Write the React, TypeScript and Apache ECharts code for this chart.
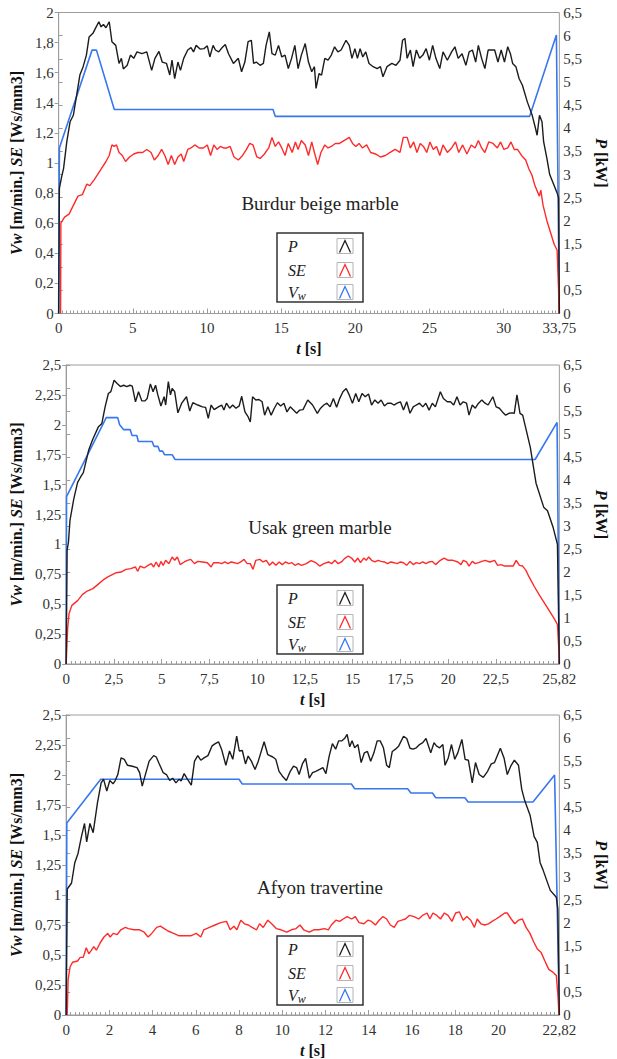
import React, { useEffect, useRef } from "react";
import * as echarts from "echarts";

type Pt = [number, number];

// ---------- tick labels / axis settings ----------
const burdurTimeTicks = [0, 5, 10, 15, 20, 25, 30, 33.75];
const usakTimeTicks = [0, 2.5, 5, 7.5, 10, 12.5, 15, 17.5, 20, 22.5, 25.82];
const afyonTimeTicks = [0, 2, 4, 6, 8, 10, 12, 14, 16, 18, 20, 22.82];
const timeTicks = [burdurTimeTicks, usakTimeTicks, afyonTimeTicks];
const minorTimeStep = [0.25, 0.25, 0.2];
const materials = ["Burdur beige marble", "Usak green marble", "Afyon travertine"];
const leftAxisMax = [2, 2.5, 2.5];
const leftAxisStep = [0.2, 0.25, 0.25];
const rightAxisMax = 6.5;
const rightAxisStep = 0.5;

// ---------- Burdur beige marble ----------
const burdurP: Pt[] = [[0,0],[0.05,2.7],[0.2,2.95],[0.33,3.13],[0.55,3.71],[0.77,4.14],[0.99,4.28],[1.21,4.71],[1.43,5.15],[1.65,5.33],[1.87,5.58],[2.05,5.97],[2.31,6.05],[2.53,6.19],[2.71,6.3],[2.86,6.19],[3.02,6.24],[3.19,6.17],[3.41,6.3],[3.59,5.87],[3.85,5.79],[4.07,5.4],[4.23,5.51],[4.36,5.28],[4.62,5.36],[4.84,5.58],[5.06,5.51],[5.28,5.65],[5.61,5.61],[5.94,5.65],[6.27,5.25],[6.49,5.51],[6.76,5.66],[6.98,5.43],[7.27,5.4],[7.49,5.15],[7.64,5.47],[7.82,5.07],[8.04,5.43],[8.21,5.25],[8.43,5.51],[8.7,5.69],[8.92,5.74],[9.09,5.65],[9.27,5.79],[9.53,5.71],[9.8,5.72],[10.02,5.78],[10.19,5.54],[10.41,5.79],[10.57,5.69],[10.79,5.65],[11.01,5.74],[11.23,5.81],[11.45,5.61],[11.78,5.4],[12.11,5.51],[12.33,5.22],[12.55,5.43],[12.77,5.87],[12.99,5.9],[13.14,5.4],[13.32,5.43],[13.58,5.36],[13.8,5.4],[13.98,5.79],[14.2,6.08],[14.38,5.61],[14.6,5.58],[14.82,5.79],[15.04,5.54],[15.26,5.58],[15.48,5.29],[15.7,5.51],[15.92,5.79],[16.14,5.29],[16.36,5.58],[16.62,5.83],[16.84,5.43],[17.06,5.22],[17.24,5.33],[17.35,4.86],[17.55,5.18],[17.72,5.15],[17.94,5.51],[18.16,5.47],[18.38,5.58],[18.6,5.76],[18.82,5.65],[19.04,5.69],[19.37,5.9],[19.59,5.79],[19.77,5.51],[19.97,5.72],[20.14,5.51],[20.32,5.72],[20.5,5.54],[20.7,5.65],[20.92,5.4],[21.2,5.33],[21.47,5.29],[21.69,5.33],[21.86,5.11],[22.13,5.33],[22.46,5.4],[22.74,5.36],[23.01,5.47],[23.18,5.9],[23.34,5.94],[23.49,5.51],[23.71,5.69],[23.89,5.33],[24.11,5.69],[24.33,5.51],[24.55,5.58],[24.77,5.72],[24.99,5.47],[25.21,5.79],[25.43,5.51],[25.69,5.29],[25.91,5.65],[26.2,5.47],[26.49,5.65],[26.71,5.76],[26.93,5.51],[27.19,5.61],[27.45,5.36],[27.67,5.65],[27.89,5.69],[28.11,5.43],[28.29,5.79],[28.51,5.51],[28.73,5.29],[28.95,5.69],[29.17,5.69],[29.39,5.69],[29.61,5.43],[29.83,5.69],[30.05,5.43],[30.27,5.76],[30.45,5.61],[30.6,5.4],[30.82,5.33],[31.04,5.07],[31.26,4.93],[31.59,4.57],[31.92,4.28],[32.14,4.0],[32.25,3.85],[32.41,4.28],[32.58,4.14],[32.69,3.71],[32.91,3.35],[33.1,3.0],[33.35,2.8],[33.6,2.6],[33.7,2.5],[33.75,0]];
const burdurSE: Pt[] = [[0.13,0],[0.15,0.6],[0.4,0.64],[0.7,0.66],[1.0,0.72],[1.3,0.78],[1.6,0.79],[1.9,0.86],[2.1,0.85],[2.4,0.89],[2.6,0.92],[2.86,0.96],[3.19,1.01],[3.41,1.05],[3.59,1.12],[3.74,1.11],[3.9,1.12],[4.07,1.07],[4.29,1.05],[4.51,1.01],[4.78,1.04],[5.06,1.06],[5.35,1.07],[5.66,1.07],[5.94,1.09],[6.23,1.07],[6.45,1.02],[6.71,1.05],[6.94,1.09],[7.16,1.05],[7.38,0.99],[7.6,1.05],[7.82,0.99],[8.04,1.04],[8.26,1.06],[8.43,1.01],[8.7,1.09],[8.92,1.1],[9.18,1.12],[9.47,1.1],[9.75,1.1],[10.02,1.12],[10.24,1.05],[10.46,1.12],[10.68,1.09],[10.9,1.11],[11.12,1.1],[11.34,1.1],[11.56,1.11],[11.82,1.04],[12.11,1.02],[12.4,1.05],[12.66,1.09],[12.88,1.13],[13.1,1.12],[13.36,1.04],[13.58,1.03],[13.87,1.06],[14.16,1.1],[14.38,1.17],[14.6,1.11],[14.82,1.14],[15.04,1.1],[15.26,1.05],[15.48,1.13],[15.74,1.07],[15.96,1.14],[16.14,1.09],[16.36,1.15],[16.62,1.12],[16.84,1.05],[17.06,1.14],[17.24,1.07],[17.46,0.99],[17.68,1.07],[17.94,1.12],[18.16,1.1],[18.38,1.11],[18.65,1.13],[18.93,1.13],[19.26,1.15],[19.59,1.17],[19.81,1.13],[20.03,1.11],[20.25,1.13],[20.47,1.1],[20.76,1.12],[21.03,1.07],[21.36,1.06],[21.69,1.04],[22.02,1.05],[22.35,1.07],[22.68,1.09],[23.01,1.07],[23.23,1.17],[23.49,1.17],[23.71,1.1],[23.93,1.14],[24.15,1.07],[24.37,1.13],[24.59,1.11],[24.81,1.07],[25.03,1.14],[25.25,1.09],[25.47,1.11],[25.69,1.05],[25.91,1.12],[26.2,1.07],[26.49,1.1],[26.75,1.14],[26.97,1.07],[27.23,1.12],[27.52,1.06],[27.81,1.12],[28.07,1.1],[28.29,1.15],[28.51,1.1],[28.73,1.07],[28.99,1.14],[29.28,1.13],[29.57,1.1],[29.79,1.14],[30.01,1.09],[30.27,1.1],[30.49,1.14],[30.71,1.09],[30.93,1.09],[31.2,1.05],[31.48,1.02],[31.7,0.96],[31.9,0.92],[32.1,0.85],[32.4,0.78],[32.5,0.82],[32.65,0.72],[32.9,0.62],[33.15,0.54],[33.4,0.46],[33.6,0.42],[33.7,0.15],[33.72,0]];
const burdurVw: Pt[] = [[0,0],[0.05,1.1],[2.25,1.75],[2.55,1.75],[3.75,1.355],[14.45,1.355],[14.6,1.31],[31.75,1.31],[33.55,1.85],[33.75,0]];

// ---------- Usak green marble ----------
const usakP: Pt[] = [[0,0],[0.05,2.47],[0.12,2.65],[0.2,3.12],[0.4,3.59],[0.6,3.95],[0.75,4.06],[0.9,4.16],[1.18,4.65],[1.4,4.89],[1.68,5.15],[1.87,5.23],[2.04,5.59],[2.21,5.88],[2.34,5.92],[2.51,6.17],[2.67,6.1],[2.84,6.03],[3.01,6.06],[3.18,6.03],[3.34,6.06],[3.46,6.04],[3.63,5.7],[3.79,5.92],[3.96,5.72],[4.13,5.72],[4.24,5.77],[4.41,6.09],[4.55,5.92],[4.68,6.06],[4.8,5.85],[4.96,5.61],[5.13,5.81],[5.21,5.63],[5.35,6.14],[5.46,5.85],[5.55,5.99],[5.68,5.92],[5.85,5.46],[6.05,5.67],[6.3,5.81],[6.47,5.5],[6.63,5.68],[6.89,5.63],[7.14,5.59],[7.3,5.58],[7.44,5.34],[7.59,5.63],[7.75,5.53],[7.97,5.59],[8.14,5.63],[8.26,5.52],[8.39,5.67],[8.56,5.56],[8.72,5.63],[8.89,5.56],[9.06,5.61],[9.19,5.82],[9.36,5.48],[9.53,5.37],[9.64,5.26],[9.76,5.81],[9.93,5.74],[10.09,5.75],[10.26,5.7],[10.39,5.41],[10.56,5.59],[10.73,5.41],[10.9,5.56],[11.06,5.68],[11.23,5.61],[11.4,5.67],[11.56,5.48],[11.73,5.59],[11.9,5.52],[12.07,5.45],[12.23,5.52],[12.4,5.53],[12.65,5.74],[12.9,5.63],[13.15,5.45],[13.32,5.56],[13.49,5.63],[13.65,5.67],[13.82,5.59],[13.99,5.77],[14.16,5.58],[14.32,5.77],[14.49,5.92],[14.66,5.99],[14.82,5.85],[14.99,5.67],[15.16,5.88],[15.32,5.7],[15.49,5.88],[15.66,5.81],[15.83,5.87],[15.99,5.63],[16.16,5.74],[16.33,5.67],[16.49,5.74],[16.66,5.61],[16.83,5.67],[17.0,5.67],[17.16,5.63],[17.33,5.67],[17.5,5.7],[17.66,5.52],[17.83,5.7],[18.0,5.45],[18.17,5.59],[18.33,5.63],[18.5,5.67],[18.67,5.59],[18.83,5.67],[19.0,5.52],[19.17,5.67],[19.33,5.59],[19.59,5.92],[19.75,5.77],[19.95,5.7],[20.12,5.7],[20.29,5.63],[20.46,5.81],[20.62,5.63],[20.79,5.7],[20.96,5.67],[21.09,5.41],[21.26,5.63],[21.42,5.56],[21.59,5.67],[21.76,5.74],[21.93,5.67],[22.09,5.63],[22.34,5.81],[22.51,5.59],[22.68,5.56],[22.84,5.48],[23.01,5.41],[23.18,5.45],[23.35,5.46],[23.46,5.45],[23.6,5.85],[23.76,5.45],[23.9,5.41],[24.3,4.71],[24.6,3.93],[25.0,3.41],[25.2,3.33],[25.5,2.96],[25.72,2.6],[25.82,0]];
const usakSE: Pt[] = [[0,0],[0.08,0.3],[0.15,0.42],[0.3,0.49],[0.6,0.53],[0.85,0.58],[1.1,0.61],[1.4,0.63],[1.7,0.67],[2.0,0.71],[2.21,0.73],[2.62,0.763],[2.87,0.769],[3.13,0.791],[3.38,0.797],[3.63,0.811],[3.74,0.775],[3.88,0.819],[4.08,0.803],[4.29,0.825],[4.46,0.839],[4.58,0.811],[4.71,0.853],[4.85,0.811],[4.96,0.858],[5.08,0.825],[5.21,0.867],[5.38,0.839],[5.55,0.895],[5.68,0.867],[5.82,0.895],[5.97,0.831],[6.18,0.853],[6.35,0.867],[6.52,0.875],[6.72,0.839],[6.89,0.858],[7.14,0.853],[7.39,0.847],[7.59,0.811],[7.72,0.847],[7.97,0.847],[8.14,0.839],[8.31,0.853],[8.47,0.839],[8.64,0.853],[8.81,0.847],[8.97,0.839],[9.14,0.853],[9.31,0.875],[9.48,0.839],[9.64,0.839],[9.78,0.791],[9.93,0.867],[10.14,0.875],[10.31,0.853],[10.48,0.867],[10.65,0.825],[10.81,0.853],[10.98,0.825],[11.15,0.853],[11.31,0.831],[11.48,0.853],[11.65,0.839],[11.82,0.847],[11.98,0.825],[12.15,0.839],[12.32,0.825],[12.57,0.839],[12.82,0.864],[13.07,0.847],[13.27,0.819],[13.49,0.839],[13.74,0.853],[13.9,0.839],[14.07,0.867],[14.24,0.839],[14.41,0.853],[14.57,0.881],[14.77,0.903],[14.94,0.886],[15.11,0.853],[15.27,0.886],[15.41,0.847],[15.58,0.886],[15.71,0.867],[15.84,0.895],[15.99,0.867],[16.16,0.853],[16.33,0.867],[16.49,0.858],[16.66,0.853],[16.83,0.839],[17.0,0.853],[17.16,0.847],[17.33,0.839],[17.5,0.853],[17.66,0.847],[17.83,0.825],[18.0,0.858],[18.17,0.831],[18.33,0.847],[18.5,0.839],[18.67,0.853],[18.83,0.839],[19.0,0.853],[19.17,0.858],[19.34,0.831],[19.59,0.867],[19.79,0.886],[20.0,0.867],[20.25,0.867],[20.51,0.853],[20.67,0.831],[20.79,0.867],[20.96,0.853],[21.09,0.819],[21.26,0.858],[21.42,0.839],[21.59,0.847],[21.76,0.858],[21.93,0.867],[22.18,0.853],[22.43,0.867],[22.59,0.825],[22.76,0.831],[22.96,0.819],[23.18,0.819],[23.4,0.819],[23.56,0.867],[23.73,0.825],[23.9,0.819],[24.07,0.783],[24.23,0.73],[24.5,0.65],[24.8,0.57],[25.2,0.47],[25.55,0.38],[25.72,0.33],[25.8,0.1],[25.82,0]];
const usakVw: Pt[] = [[0,0],[0.02,1.4],[2.1,2.06],[2.7,2.06],[2.8,2.0],[3.0,1.96],[3.35,1.96],[3.45,1.91],[3.7,1.91],[3.78,1.86],[4.5,1.86],[4.6,1.82],[4.8,1.82],[4.9,1.78],[5.05,1.78],[5.15,1.75],[5.55,1.75],[5.7,1.71],[24.55,1.71],[25.7,2.02],[25.82,0]];

// ---------- Afyon travertine ----------
const afyonP: Pt[] = [[0,0],[0.05,2.73],[0.25,2.86],[0.4,3.3],[0.55,3.5],[0.7,3.85],[0.85,4.15],[0.95,3.75],[1.1,4.15],[1.25,3.95],[1.45,4.6],[1.62,5.03],[1.73,5.11],[1.88,4.85],[2.02,5.08],[2.17,5.01],[2.27,5.08],[2.39,5.21],[2.54,5.57],[2.69,5.54],[2.84,5.41],[3.06,5.39],[3.28,5.36],[3.4,5.25],[3.52,4.96],[3.65,5.18],[3.84,5.5],[4.05,5.62],[4.17,5.59],[4.31,5.44],[4.49,5.25],[4.64,5.21],[4.79,5.08],[4.93,5.13],[5.08,5.03],[5.23,5.11],[5.32,5.07],[5.46,5.23],[5.61,5.11],[5.79,4.98],[5.94,5.5],[6.09,5.62],[6.23,5.52],[6.38,5.57],[6.56,5.62],[6.75,5.83],[6.9,5.88],[7.05,5.92],[7.19,5.76],[7.39,5.41],[7.56,5.72],[7.71,5.54],[7.89,6.04],[8.01,5.72],[8.15,5.73],[8.3,5.44],[8.42,5.61],[8.57,5.5],[8.74,5.32],[8.89,5.5],[9.16,5.92],[9.33,5.64],[9.56,5.59],[9.7,5.54],[9.85,5.28],[10.0,5.18],[10.19,5.08],[10.37,5.28],[10.52,5.39],[10.66,5.36],[10.78,5.21],[10.93,5.44],[11.08,5.56],[11.25,5.13],[11.4,5.25],[11.55,5.28],[11.73,5.32],[11.88,5.36],[12.02,5.23],[12.17,5.61],[12.32,5.88],[12.47,5.76],[12.61,5.94],[12.76,5.94],[12.88,5.99],[13.0,6.08],[13.12,5.81],[13.23,5.94],[13.35,5.79],[13.5,5.86],[13.65,5.47],[13.8,5.68],[13.94,5.71],[14.09,5.5],[14.24,5.68],[14.39,5.94],[14.53,5.94],[14.68,5.79],[14.83,5.41],[14.95,5.36],[15.09,5.71],[15.24,5.76],[15.39,5.83],[15.61,6.04],[15.76,5.99],[15.91,5.78],[16.05,5.76],[16.2,5.79],[16.35,5.86],[16.5,5.9],[16.65,5.99],[16.75,5.85],[16.87,5.68],[17.02,5.9],[17.13,5.83],[17.28,5.79],[17.43,5.86],[17.53,5.41],[17.68,5.57],[17.83,5.86],[17.98,5.54],[18.12,5.68],[18.31,5.97],[18.46,5.54],[18.61,5.52],[18.79,5.03],[18.94,5.47],[19.11,5.21],[19.3,5.15],[19.5,5.28],[19.67,5.44],[19.82,5.47],[20.09,5.78],[20.26,5.57],[20.41,5.21],[20.59,5.41],[20.74,5.52],[20.93,5.41],[21.08,4.89],[21.22,4.64],[21.47,4.32],[21.65,3.87],[21.8,3.74],[21.93,3.3],[22.06,3.15],[22.4,2.7],[22.68,2.55],[22.75,2.3],[22.82,0]];
const afyonSE: Pt[] = [[0.05,0],[0.09,0.29],[0.18,0.4],[0.3,0.44],[0.53,0.45],[0.65,0.48],[0.79,0.48],[0.93,0.56],[1.05,0.51],[1.17,0.54],[1.28,0.57],[1.4,0.54],[1.57,0.6],[1.75,0.65],[1.92,0.68],[2.04,0.65],[2.18,0.68],[2.36,0.67],[2.53,0.71],[2.74,0.73],[2.88,0.72],[3.14,0.71],[3.4,0.71],[3.61,0.69],[3.79,0.65],[3.96,0.68],[4.19,0.73],[4.36,0.74],[4.54,0.72],[4.71,0.7],[4.97,0.68],[5.23,0.66],[5.5,0.66],[5.76,0.66],[6.02,0.68],[6.23,0.65],[6.37,0.71],[6.63,0.73],[6.89,0.75],[7.15,0.77],[7.42,0.78],[7.59,0.71],[7.76,0.74],[7.9,0.71],[8.08,0.79],[8.25,0.76],[8.43,0.75],[8.6,0.73],[8.81,0.71],[8.95,0.76],[9.12,0.73],[9.33,0.79],[9.51,0.76],[9.72,0.72],[9.94,0.71],[10.21,0.69],[10.42,0.71],[10.64,0.72],[10.82,0.75],[10.99,0.71],[11.25,0.69],[11.46,0.71],[11.69,0.71],[11.95,0.72],[12.13,0.71],[12.27,0.75],[12.48,0.79],[12.65,0.78],[12.82,0.8],[13.0,0.82],[13.21,0.8],[13.38,0.82],[13.55,0.77],[13.78,0.76],[13.96,0.79],[14.13,0.78],[14.31,0.75],[14.48,0.79],[14.66,0.82],[14.83,0.8],[15.0,0.75],[15.18,0.73],[15.35,0.78],[15.53,0.79],[15.7,0.8],[15.88,0.83],[16.1,0.82],[16.31,0.8],[16.49,0.83],[16.7,0.85],[16.83,0.8],[16.97,0.85],[17.15,0.83],[17.32,0.8],[17.5,0.85],[17.67,0.83],[17.85,0.78],[18.02,0.85],[18.19,0.86],[18.37,0.79],[18.54,0.82],[18.72,0.79],[18.89,0.73],[19.02,0.8],[19.19,0.76],[19.36,0.75],[19.54,0.76],[19.71,0.78],[19.89,0.8],[20.06,0.82],[20.29,0.85],[20.41,0.85],[20.59,0.8],[20.76,0.76],[20.93,0.79],[21.11,0.8],[21.28,0.73],[21.46,0.68],[21.63,0.61],[21.8,0.55],[21.98,0.52],[22.15,0.45],[22.33,0.38],[22.5,0.36],[22.68,0.33],[22.76,0.15],[22.8,0]];
const afyonVw: Pt[] = [[0,0],[0.03,1.6],[1.6,1.965],[8.0,1.965],[8.15,1.925],[13.2,1.925],[13.35,1.885],[15.8,1.885],[15.95,1.85],[16.95,1.85],[17.1,1.81],[18.45,1.81],[18.6,1.775],[21.6,1.775],[22.6,2.0],[22.82,0]];

const panelP = [burdurP, usakP, afyonP];
const panelSE = [burdurSE, usakSE, afyonSE];
const panelVw = [burdurVw, usakVw, afyonVw];

// ---------- layout (pixels) ----------
const layout = [
  { left: 53, top: 12.5, height: 301, legendTop: 233, titleY: 203, leftNameGap: 30 },
  { left: 61, top: 365, height: 299, legendTop: 585, titleY: 527, leftNameGap: 38 },
  { left: 61, top: 715, height: 300, legendTop: 936, titleY: 887, leftNameGap: 38 },
];
const RIGHT = 41;
const SERIF = "Liberation Serif, Times New Roman, serif";
const AXIS_GRAY = "#9c9c9c";
const LABEL_COLOR = "#333";
const COL_P = "#1c1c1c";
const COL_SE = "#ff2a2a";
const COL_VW = "#3777f0";

const comma = (v: number) => String(v).replace(".", ",");

function legendElements(top: number) {
  const left = 277;
  const els: any[] = [
    {
      type: "rect",
      shape: { x: left, y: top, width: 86, height: 69 },
      style: { fill: "#fff", stroke: "#333", lineWidth: 1.5 },
      z: 10,
    },
  ];
  const rows = [
    { text: "{i|P}", color: COL_P, dy: 13 },
    { text: "{i|SE}", color: COL_SE, dy: 37 },
    { text: "{i|V}{s|w}", color: COL_VW, dy: 59 },
  ];
  rows.forEach((r) => {
    els.push({
      type: "text",
      x: left + 11,
      y: top + r.dy,
      z: 11,
      style: {
        text: r.text,
        fill: "#222",
        verticalAlign: "middle",
        align: "left",
        rich: {
          i: { fontFamily: SERIF, fontStyle: "italic", fontSize: 16, fill: "#222" },
          s: { fontFamily: SERIF, fontStyle: "italic", fontSize: 12, fill: "#222", padding: [7, 0, 0, 0] },
        },
      },
    });
    const bx = left + 60;
    const by = top + r.dy - 7.5;
    els.push({
      type: "rect",
      z: 11,
      shape: { x: bx, y: by, width: 16, height: 15 },
      style: { fill: "#fff", stroke: "#b5b5b5", lineWidth: 1 },
    });
    els.push({
      type: "polyline",
      z: 12,
      shape: { points: [[bx + 2.5, by + 14], [bx + 8, by + 2], [bx + 13.5, by + 14]] },
      style: { stroke: r.color, fill: "none", lineWidth: 1.3 },
    });
  });
  return els;
}

export default function App() {
  const ref = useRef<HTMLDivElement>(null);
  useEffect(() => {
    if (!ref.current) return;
    const chart = echarts.init(ref.current, undefined, { renderer: "svg" });

    const grid: any[] = [];
    const xAxis: any[] = [];
    const yAxis: any[] = [];
    const series: any[] = [];
    const graphic: any[] = [];

    const nameStyle = {
      fontFamily: SERIF,
      fontWeight: "bold",
      fontSize: 16,
      color: "#111",
      rich: { i: { fontFamily: SERIF, fontWeight: "bold", fontStyle: "italic", fontSize: 16, color: "#111" } },
    };
    const tickLabel = { fontFamily: SERIF, fontSize: 15, lineHeight: 13, color: LABEL_COLOR };

    layout.forEach((L, i) => {
      const tMax = timeTicks[i][timeTicks[i].length - 1];
      grid.push({
        left: L.left,
        right: RIGHT,
        top: L.top,
        height: L.height,
        show: true,
        borderColor: AXIS_GRAY,
        borderWidth: 1,
        backgroundColor: "transparent",
      });
      xAxis.push({
        gridIndex: i,
        type: "value",
        position: "bottom",
        min: 0,
        max: tMax,
        interval: timeTicks[i][1],
        name: "{i|t} [s]",
        nameLocation: "middle",
        nameGap: 27,
        nameTextStyle: nameStyle,
        axisLine: { show: true, lineStyle: { color: AXIS_GRAY, width: 1 } },
        axisTick: { show: true, inside: true, length: 5, customValues: timeTicks[i], lineStyle: { color: AXIS_GRAY } },
        axisLabel: { customValues: timeTicks[i], formatter: comma, margin: 8, ...tickLabel },
        splitLine: { show: false },
      });
      xAxis.push({
        gridIndex: i,
        type: "value",
        position: "bottom",
        min: 0,
        max: tMax,
        interval: minorTimeStep[i],
        axisLine: { show: false },
        axisTick: { show: true, inside: true, length: 3, lineStyle: { color: AXIS_GRAY } },
        axisLabel: { show: false },
        splitLine: { show: false },
      });
      yAxis.push({
        gridIndex: i,
        type: "value",
        position: "left",
        min: 0,
        max: leftAxisMax[i],
        interval: leftAxisStep[i],
        name: "{i|Vw} [m/min.] {i|SE} [Ws/mm3]",
        nameLocation: "middle",
        nameGap: L.leftNameGap,
        nameTextStyle: nameStyle,
        axisLine: { show: true, lineStyle: { color: AXIS_GRAY } },
        axisTick: { show: true, inside: false, length: 4, lineStyle: { color: AXIS_GRAY } },
        axisLabel: { formatter: comma, margin: 5, ...tickLabel },
        splitLine: { show: false },
      });
      yAxis.push({
        gridIndex: i,
        type: "value",
        position: "right",
        min: 0,
        max: rightAxisMax,
        interval: rightAxisStep,
        name: "{i|P} [kW]",
        nameLocation: "middle",
        nameRotate: -90,
        nameGap: 27,
        nameTextStyle: nameStyle,
        axisLine: { show: true, lineStyle: { color: AXIS_GRAY } },
        axisTick: { show: true, inside: false, length: 4, lineStyle: { color: AXIS_GRAY } },
        axisLabel: { formatter: comma, margin: 4, ...tickLabel },
        splitLine: { show: false },
      });

      const common = { type: "line", showSymbol: false, symbol: "none", xAxisIndex: 2 * i, clip: true };
      series.push({ ...common, name: "Vw", yAxisIndex: 2 * i, data: panelVw[i], lineStyle: { color: COL_VW, width: 1.6 }, z: 2 });
      series.push({ ...common, name: "SE", yAxisIndex: 2 * i, data: panelSE[i], lineStyle: { color: COL_SE, width: 1.4 }, z: 3 });
      series.push({ ...common, name: "P", yAxisIndex: 2 * i + 1, data: panelP[i], lineStyle: { color: COL_P, width: 1.4 }, z: 4 });

      graphic.push({
        type: "text",
        x: 320,
        y: L.titleY,
        z: 10,
        style: {
          text: materials[i],
          fontFamily: SERIF,
          fontSize: 19,
          fill: "#222",
          align: "center",
          verticalAlign: "middle",
        },
      });
      legendElements(L.legendTop).forEach((e) => graphic.push(e));
    });

    chart.setOption({
      animation: false,
      backgroundColor: "#fff",
      grid,
      xAxis,
      yAxis,
      series,
      graphic,
    });
    return () => chart.dispose();
  }, []);

  return (
    <div
      ref={ref}
      style={{ position: "absolute", left: 0, top: 0, width: 617, height: 1059, background: "#fff" }}
    />
  );
}
